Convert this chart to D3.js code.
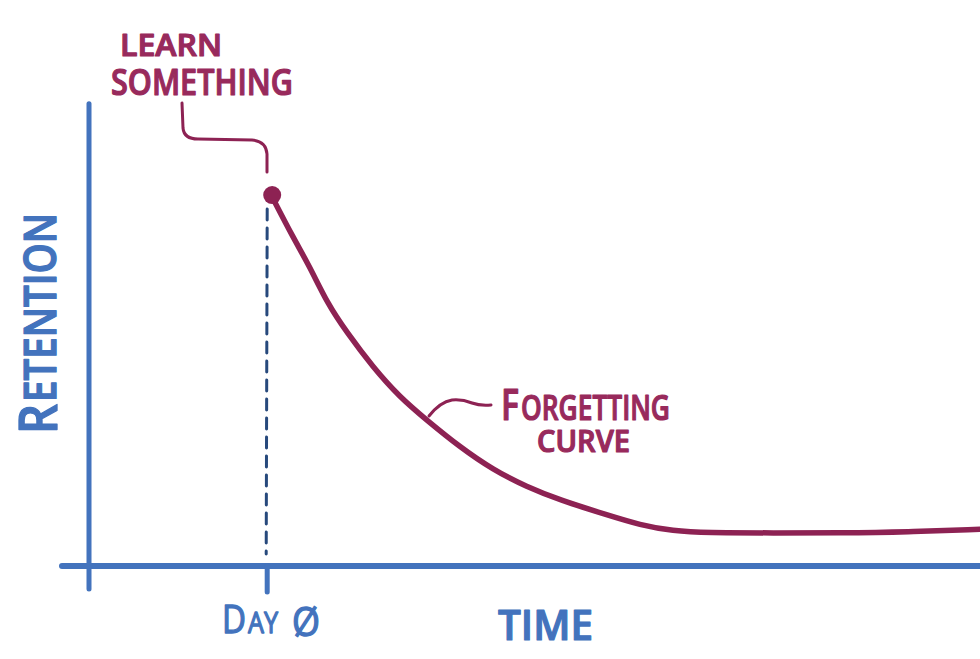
<!DOCTYPE html>
<html><head><meta charset="utf-8">
<script src="https://cdn.jsdelivr.net/npm/d3@7"></script>
<style>html,body{margin:0;padding:0;background:#fff;}svg{display:block;}</style>
</head><body>
<svg id="c" width="980" height="659"></svg>
<script>
// Data (time units, retention %)
const days = [0.7, 3.6, 6.0, 8.4, 11.2, 14.8, 18.6, 22.4, 27.0, 31.7, 36.4, 41.1, 47.7, 52.3, 56.9, 61.7, 71, 80.4, 89.8, 100];
const retention = [80.2, 71.5, 65.0, 57.2, 50.7, 43.3, 36.7, 31.7, 25.9, 20.9, 17.2, 14.3, 11.1, 8.9, 7.6, 7.2, 7.2, 7.2, 7.4, 8.0];
const startDay = [0];
const xLabels = ["DAY Ø"];
const axisTitles = ["TIME", "RETENTION"];
const annotations = ["LEARN", "SOMETHING", "FORGETTING", "CURVE"];

const BLUE = "#4373bd", MAROON = "#8d2253", TEXTM = "#982a5c", NAVY = "#27497c";
const svg = d3.select("#c");
const x = d3.scaleLinear().domain([-25, 100]).range([89, 980]);
const y = d3.scaleLinear().domain([0, 100]).range([566, 106]);
const FONT = "'Open Sans', sans-serif";

// axes
svg.append("line").attr("x1", x(-25)).attr("x2", x(-25)).attr("y1", y(100.5)).attr("y2", 589)
  .attr("stroke", BLUE).attr("stroke-width", 5).attr("stroke-linecap", "round");
svg.append("line").attr("x1", 62).attr("x2", 985).attr("y1", y(0)).attr("y2", y(0))
  .attr("stroke", BLUE).attr("stroke-width", 6).attr("stroke-linecap", "round");
// tick at day 0
svg.append("line").attr("x1", x(startDay[0])).attr("x2", x(startDay[0])).attr("y1", y(0)).attr("y2", 592)
  .attr("stroke", BLUE).attr("stroke-width", 5).attr("stroke-linecap", "round");
// dashed drop line
svg.append("line").attr("x1", x(startDay[0])).attr("x2", x(startDay[0]) - 1).attr("y1", y(retention[0]) + 12).attr("y2", 554)
  .attr("stroke", NAVY).attr("stroke-width", 3).attr("stroke-dasharray", "11 8").attr("stroke-linecap", "round");

// curve
const line = d3.line().x((d, i) => x(days[i])).y(d => y(d)).curve(d3.curveBasis);
svg.append("path").datum(retention).attr("d", line).attr("fill", "none")
  .attr("stroke", MAROON).attr("stroke-width", 5.5).attr("stroke-linecap", "round");
svg.append("circle").attr("cx", x(days[0])).attr("cy", y(retention[0]) - 2).attr("r", 9).attr("fill", MAROON);

// leader lines
svg.append("path").attr("d", "M182,103 L183,128 Q184,139 198,139 L252,140 Q266,141 267,154 L267,172")
  .attr("fill", "none").attr("stroke", MAROON).attr("stroke-width", 3).attr("stroke-linecap", "round");
svg.append("path").attr("d", "M429,416 Q440,402 452,400 Q462,399 472,403 Q480,406 491,405")
  .attr("fill", "none").attr("stroke", MAROON).attr("stroke-width", 3).attr("stroke-linecap", "round");

function txt(str, px, py, size, color, len, weight) {
  return svg.append("text").attr("x", px).attr("y", py).text(str)
    .attr("font-family", FONT).attr("font-size", size).attr("font-weight", weight || 600)
    .attr("fill", color).attr("stroke", color).attr("stroke-width", 1.2).attr("stroke-linejoin", "round")
    .attr("textLength", len).attr("lengthAdjust", "spacingAndGlyphs");
}
txt(annotations[0], 120, 56, 31, TEXTM, 102);
txt(annotations[1], 111, 95, 36, TEXTM, 182);

// FORGETTING with big F
const f = svg.append("text").attr("font-family", FONT).attr("font-weight", 600).attr("fill", TEXTM)
  .attr("stroke", TEXTM).attr("stroke-width", 1.2).attr("stroke-linejoin", "round");
f.append("tspan").attr("x", 501).attr("y", 420).attr("font-size", 44).attr("textLength", 18).attr("lengthAdjust", "spacingAndGlyphs").text(annotations[2][0]);
f.append("tspan").attr("x", 521).attr("y", 420).attr("font-size", 34).attr("textLength", 149).attr("lengthAdjust", "spacingAndGlyphs").text(annotations[2].slice(1));
txt(annotations[3], 537, 452, 30, TEXTM, 93);

// DAY Ø with bigger D, thinner
const dl = svg.append("text").attr("font-family", FONT).attr("font-weight", 400).attr("fill", BLUE)
  .attr("stroke", BLUE).attr("stroke-width", 1.3).attr("stroke-linejoin", "round");
const lab = xLabels[0];
dl.append("tspan").attr("x", 222).attr("y", 633).attr("font-size", 38).attr("textLength", 24).attr("lengthAdjust", "spacingAndGlyphs").text(lab[0]);
dl.append("tspan").attr("x", 248).attr("y", 633).attr("font-size", 30).attr("textLength", 30).attr("lengthAdjust", "spacingAndGlyphs").text(lab.slice(1, 3));
dl.append("tspan").attr("x", 292).attr("y", 636).attr("font-size", 40).attr("textLength", 28).attr("lengthAdjust", "spacingAndGlyphs").text(lab.slice(4));

txt(axisTitles[0], 498, 640, 41, BLUE, 95);

// RETENTION rotated, big R
const rt = svg.append("text").attr("transform", "translate(57,434) rotate(-90)")
  .attr("font-family", FONT).attr("font-weight", 600).attr("fill", BLUE)
  .attr("stroke", BLUE).attr("stroke-width", 1.3).attr("stroke-linejoin", "round");
rt.append("tspan").attr("x", 0).attr("y", 0).attr("font-size", 52).attr("textLength", 30).attr("lengthAdjust", "spacingAndGlyphs").text(axisTitles[1][0]);
rt.append("tspan").attr("x", 32).attr("y", -1).attr("font-size", 45).attr("textLength", 189).attr("lengthAdjust", "spacingAndGlyphs").text(axisTitles[1].slice(1));
</script>
</body></html>
